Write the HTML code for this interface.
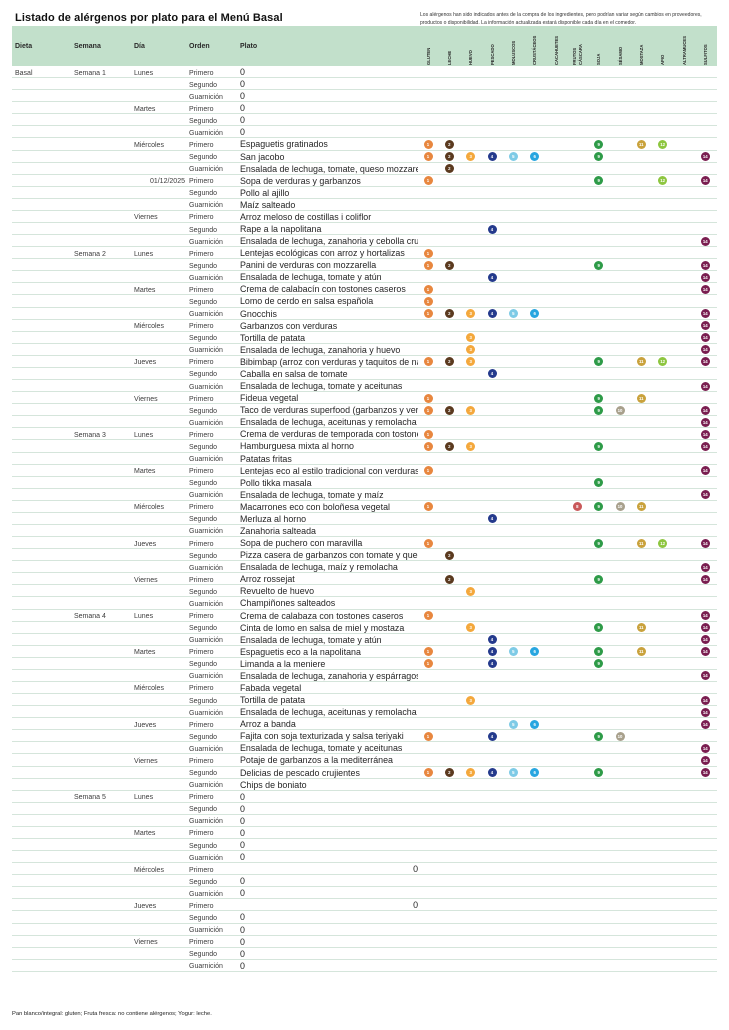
<!DOCTYPE html>
<html><head><meta charset="utf-8">
<style>
html,body{margin:0;padding:0;background:#fff;}
body{width:729px;height:1030px;position:relative;overflow:hidden;font-family:"Liberation Sans",Arial,sans-serif;color:#222;}
.title{position:absolute;left:15px;top:12px;font-weight:bold;font-size:11px;letter-spacing:0.1px;color:#111;white-space:nowrap;}
.note{position:absolute;left:420px;top:11px;font-size:5.05px;line-height:8px;color:#333;white-space:nowrap;}
.hdr{position:absolute;left:12px;top:26px;width:705px;height:40px;background:#c2e0cb;}
.hl{position:absolute;top:42.5px;font-weight:bold;font-size:7px;color:#2a2a2a;}
.v{position:absolute;top:65px;transform-origin:0 0;transform:rotate(-90deg);font-weight:bold;font-size:4.2px;line-height:5px;white-space:nowrap;color:#2a2a2a;}
.tbl{position:absolute;left:12px;top:66px;width:705px;}
.r{position:relative;height:12.08px;box-sizing:border-box;border-bottom:1px solid #d5e5db;}
.r span{position:absolute;top:1.5px;line-height:12px;font-size:7px;color:#3c3c3c;white-space:nowrap;}
.d{left:3px;}
.s{left:62px;}
.y{left:122px;}
.dt{left:136px;width:37px;text-align:right;}
.o{left:177px;}
.r .p{top:0;left:228px;width:178px;overflow:hidden;font-size:8.9px;color:#262626;}
.r .pr{top:0;left:228px;width:178px;text-align:right;font-size:8.9px;color:#262626;}
.c{position:absolute;top:1.5px;width:9px;height:9px;border-radius:50%;color:#fff;font-size:4.3px;font-weight:bold;line-height:9px;text-align:center;font-style:normal;}
.c1{left:411.5px;background:#e8873f;}
.c2{left:432.8px;background:#5b3a1f;}
.c3{left:454.2px;background:#f4a83c;}
.c4{left:475.5px;background:#243a8c;}
.c5{left:496.8px;background:#7ecbe6;}
.c6{left:518.2px;background:#27a6e0;}
.c8{left:560.8px;background:#c9595a;}
.c9{left:582.2px;background:#2e9b48;}
.c10{left:603.5px;background:#a8a08c;}
.c11{left:624.8px;background:#c9a23c;}
.c12{left:646.2px;background:#8dc63f;}
.c14{left:688.8px;background:#7a1e50;}
.foot{position:absolute;left:12px;top:1010.5px;font-size:5.8px;color:#222;white-space:nowrap;}
</style></head>
<body>
<div class="title">Listado de alérgenos por plato para el Menú Basal</div>
<div class="note">Los alérgenos han sido indicados antes de la compra de los ingredientes, pero podrían variar según cambios en proveedores,<br>productos o disponibilidad. La información actualizada estará disponible cada día en el comedor.</div>
<div class="hdr"></div>
<div class="hl" style="left:15px">Dieta</div>
<div class="hl" style="left:74px">Semana</div>
<div class="hl" style="left:134px">Día</div>
<div class="hl" style="left:189px">Orden</div>
<div class="hl" style="left:240px">Plato</div>
<div class="v" style="left:425.5px">GLUTEN</div>
<div class="v" style="left:446.8px">LECHE</div>
<div class="v" style="left:468.2px">HUEVO</div>
<div class="v" style="left:489.5px">PESCADO</div>
<div class="v" style="left:510.8px">MOLUSCOS</div>
<div class="v" style="left:532.2px">CRUSTÁCEOS</div>
<div class="v" style="left:553.5px">CACAHUETES</div>
<div class="v" style="left:572px;line-height:5.5px">FRUTOS<br>CÁSCARA</div>
<div class="v" style="left:596.2px">SOJA</div>
<div class="v" style="left:617.5px">SÉSAMO</div>
<div class="v" style="left:638.8px">MOSTAZA</div>
<div class="v" style="left:660.2px">APIO</div>
<div class="v" style="left:681.5px">ALTRAMUCES</div>
<div class="v" style="left:702.8px">SULFITOS</div>

<div class="tbl">
<div class="r"><span class="d">Basal</span><span class="s">Semana 1</span><span class="y">Lunes</span><span class="o">Primero</span><span class="p">0</span></div>
<div class="r"><span class="o">Segundo</span><span class="p">0</span></div>
<div class="r"><span class="o">Guarnición</span><span class="p">0</span></div>
<div class="r"><span class="y">Martes</span><span class="o">Primero</span><span class="p">0</span></div>
<div class="r"><span class="o">Segundo</span><span class="p">0</span></div>
<div class="r"><span class="o">Guarnición</span><span class="p">0</span></div>
<div class="r"><span class="y">Miércoles</span><span class="o">Primero</span><span class="p">Espaguetis gratinados</span><i class="c c1">1</i><i class="c c2">2</i><i class="c c9">9</i><i class="c c11">11</i><i class="c c12">12</i></div>
<div class="r"><span class="o">Segundo</span><span class="p">San jacobo</span><i class="c c1">1</i><i class="c c2">2</i><i class="c c3">3</i><i class="c c4">4</i><i class="c c5">5</i><i class="c c6">6</i><i class="c c9">9</i><i class="c c14">14</i></div>
<div class="r"><span class="o">Guarnición</span><span class="p">Ensalada de lechuga, tomate, queso mozzarella</span><i class="c c2">2</i></div>
<div class="r"><span class="dt">01/12/2025</span><span class="o">Primero</span><span class="p">Sopa de verduras y garbanzos</span><i class="c c1">1</i><i class="c c9">9</i><i class="c c12">12</i><i class="c c14">14</i></div>
<div class="r"><span class="o">Segundo</span><span class="p">Pollo al ajillo</span></div>
<div class="r"><span class="o">Guarnición</span><span class="p">Maíz salteado</span></div>
<div class="r"><span class="y">Viernes</span><span class="o">Primero</span><span class="p">Arroz meloso de costillas i coliflor</span></div>
<div class="r"><span class="o">Segundo</span><span class="p">Rape a la napolitana</span><i class="c c4">4</i></div>
<div class="r"><span class="o">Guarnición</span><span class="p">Ensalada de lechuga, zanahoria y cebolla cruda</span><i class="c c14">14</i></div>

<div class="r"><span class="s">Semana 2</span><span class="y">Lunes</span><span class="o">Primero</span><span class="p">Lentejas ecológicas con arroz y hortalizas</span><i class="c c1">1</i></div>
<div class="r"><span class="o">Segundo</span><span class="p">Panini de verduras con mozzarella</span><i class="c c1">1</i><i class="c c2">2</i><i class="c c9">9</i><i class="c c14">14</i></div>
<div class="r"><span class="o">Guarnición</span><span class="p">Ensalada de lechuga, tomate y atún</span><i class="c c4">4</i><i class="c c14">14</i></div>
<div class="r"><span class="y">Martes</span><span class="o">Primero</span><span class="p">Crema de calabacín con tostones caseros</span><i class="c c1">1</i><i class="c c14">14</i></div>
<div class="r"><span class="o">Segundo</span><span class="p">Lomo de cerdo en salsa española</span><i class="c c1">1</i></div>
<div class="r"><span class="o">Guarnición</span><span class="p">Gnocchis</span><i class="c c1">1</i><i class="c c2">2</i><i class="c c3">3</i><i class="c c4">4</i><i class="c c5">5</i><i class="c c6">6</i><i class="c c14">14</i></div>
<div class="r"><span class="y">Miércoles</span><span class="o">Primero</span><span class="p">Garbanzos con verduras</span><i class="c c14">14</i></div>
<div class="r"><span class="o">Segundo</span><span class="p">Tortilla de patata</span><i class="c c3">3</i><i class="c c14">14</i></div>
<div class="r"><span class="o">Guarnición</span><span class="p">Ensalada de lechuga, zanahoria y huevo</span><i class="c c3">3</i><i class="c c14">14</i></div>
<div class="r"><span class="y">Jueves</span><span class="o">Primero</span><span class="p">Bibimbap (arroz con verduras y taquitos de nabo)</span><i class="c c1">1</i><i class="c c2">2</i><i class="c c3">3</i><i class="c c9">9</i><i class="c c11">11</i><i class="c c12">12</i><i class="c c14">14</i></div>
<div class="r"><span class="o">Segundo</span><span class="p">Caballa en salsa de tomate</span><i class="c c4">4</i></div>
<div class="r"><span class="o">Guarnición</span><span class="p">Ensalada de lechuga, tomate y aceitunas</span><i class="c c14">14</i></div>
<div class="r"><span class="y">Viernes</span><span class="o">Primero</span><span class="p">Fideua vegetal</span><i class="c c1">1</i><i class="c c9">9</i><i class="c c11">11</i></div>
<div class="r"><span class="o">Segundo</span><span class="p">Taco de verduras superfood (garbanzos y verduras)</span><i class="c c1">1</i><i class="c c2">2</i><i class="c c3">3</i><i class="c c9">9</i><i class="c c10">10</i><i class="c c14">14</i></div>
<div class="r"><span class="o">Guarnición</span><span class="p">Ensalada de lechuga, aceitunas y remolacha</span><i class="c c14">14</i></div>

<div class="r"><span class="s">Semana 3</span><span class="y">Lunes</span><span class="o">Primero</span><span class="p">Crema de verduras de temporada con tostones</span><i class="c c1">1</i><i class="c c14">14</i></div>
<div class="r"><span class="o">Segundo</span><span class="p">Hamburguesa mixta al horno</span><i class="c c1">1</i><i class="c c2">2</i><i class="c c3">3</i><i class="c c9">9</i><i class="c c14">14</i></div>
<div class="r"><span class="o">Guarnición</span><span class="p">Patatas fritas</span></div>
<div class="r"><span class="y">Martes</span><span class="o">Primero</span><span class="p">Lentejas eco al estilo tradicional con verduras</span><i class="c c1">1</i><i class="c c14">14</i></div>
<div class="r"><span class="o">Segundo</span><span class="p">Pollo tikka masala</span><i class="c c9">9</i></div>
<div class="r"><span class="o">Guarnición</span><span class="p">Ensalada de lechuga, tomate y maíz</span><i class="c c14">14</i></div>
<div class="r"><span class="y">Miércoles</span><span class="o">Primero</span><span class="p">Macarrones eco con boloñesa vegetal</span><i class="c c1">1</i><i class="c c8">8</i><i class="c c9">9</i><i class="c c10">10</i><i class="c c11">11</i></div>
<div class="r"><span class="o">Segundo</span><span class="p">Merluza al horno</span><i class="c c4">4</i></div>
<div class="r"><span class="o">Guarnición</span><span class="p">Zanahoria salteada</span></div>
<div class="r"><span class="y">Jueves</span><span class="o">Primero</span><span class="p">Sopa de puchero con maravilla</span><i class="c c1">1</i><i class="c c9">9</i><i class="c c11">11</i><i class="c c12">12</i><i class="c c14">14</i></div>
<div class="r"><span class="o">Segundo</span><span class="p">Pizza casera de garbanzos con tomate y queso</span><i class="c c2">2</i></div>
<div class="r"><span class="o">Guarnición</span><span class="p">Ensalada de lechuga, maíz y remolacha</span><i class="c c14">14</i></div>
<div class="r"><span class="y">Viernes</span><span class="o">Primero</span><span class="p">Arroz rossejat</span><i class="c c2">2</i><i class="c c9">9</i><i class="c c14">14</i></div>
<div class="r"><span class="o">Segundo</span><span class="p">Revuelto de huevo</span><i class="c c3">3</i></div>
<div class="r"><span class="o">Guarnición</span><span class="p">Champiñones salteados</span></div>

<div class="r"><span class="s">Semana 4</span><span class="y">Lunes</span><span class="o">Primero</span><span class="p">Crema de calabaza con tostones caseros</span><i class="c c1">1</i><i class="c c14">14</i></div>
<div class="r"><span class="o">Segundo</span><span class="p">Cinta de lomo en salsa de miel y mostaza</span><i class="c c3">3</i><i class="c c9">9</i><i class="c c11">11</i><i class="c c14">14</i></div>
<div class="r"><span class="o">Guarnición</span><span class="p">Ensalada de lechuga, tomate y atún</span><i class="c c4">4</i><i class="c c14">14</i></div>
<div class="r"><span class="y">Martes</span><span class="o">Primero</span><span class="p">Espaguetis eco a la napolitana</span><i class="c c1">1</i><i class="c c4">4</i><i class="c c5">5</i><i class="c c6">6</i><i class="c c9">9</i><i class="c c11">11</i><i class="c c14">14</i></div>
<div class="r"><span class="o">Segundo</span><span class="p">Limanda a la meniere</span><i class="c c1">1</i><i class="c c4">4</i><i class="c c9">9</i></div>
<div class="r"><span class="o">Guarnición</span><span class="p">Ensalada de lechuga, zanahoria y espárragos</span><i class="c c14">14</i></div>
<div class="r"><span class="y">Miércoles</span><span class="o">Primero</span><span class="p">Fabada vegetal</span></div>
<div class="r"><span class="o">Segundo</span><span class="p">Tortilla de patata</span><i class="c c3">3</i><i class="c c14">14</i></div>
<div class="r"><span class="o">Guarnición</span><span class="p">Ensalada de lechuga, aceitunas y remolacha</span><i class="c c14">14</i></div>
<div class="r"><span class="y">Jueves</span><span class="o">Primero</span><span class="p">Arroz a banda</span><i class="c c5">5</i><i class="c c6">6</i><i class="c c14">14</i></div>
<div class="r"><span class="o">Segundo</span><span class="p">Fajita con soja texturizada y salsa teriyaki</span><i class="c c1">1</i><i class="c c4">4</i><i class="c c9">9</i><i class="c c10">10</i></div>
<div class="r"><span class="o">Guarnición</span><span class="p">Ensalada de lechuga, tomate y aceitunas</span><i class="c c14">14</i></div>
<div class="r"><span class="y">Viernes</span><span class="o">Primero</span><span class="p">Potaje de garbanzos a la mediterránea</span><i class="c c14">14</i></div>
<div class="r"><span class="o">Segundo</span><span class="p">Delicias de pescado crujientes</span><i class="c c1">1</i><i class="c c2">2</i><i class="c c3">3</i><i class="c c4">4</i><i class="c c5">5</i><i class="c c6">6</i><i class="c c9">9</i><i class="c c14">14</i></div>
<div class="r"><span class="o">Guarnición</span><span class="p">Chips de boniato</span></div>

<div class="r"><span class="s">Semana 5</span><span class="y">Lunes</span><span class="o">Primero</span><span class="p">0</span></div>
<div class="r"><span class="o">Segundo</span><span class="p">0</span></div>
<div class="r"><span class="o">Guarnición</span><span class="p">0</span></div>
<div class="r"><span class="y">Martes</span><span class="o">Primero</span><span class="p">0</span></div>
<div class="r"><span class="o">Segundo</span><span class="p">0</span></div>
<div class="r"><span class="o">Guarnición</span><span class="p">0</span></div>
<div class="r"><span class="y">Miércoles</span><span class="o">Primero</span><span class="pr">0</span></div>
<div class="r"><span class="o">Segundo</span><span class="p">0</span></div>
<div class="r"><span class="o">Guarnición</span><span class="p">0</span></div>
<div class="r"><span class="y">Jueves</span><span class="o">Primero</span><span class="pr">0</span></div>
<div class="r"><span class="o">Segundo</span><span class="p">0</span></div>
<div class="r"><span class="o">Guarnición</span><span class="p">0</span></div>
<div class="r"><span class="y">Viernes</span><span class="o">Primero</span><span class="p">0</span></div>
<div class="r"><span class="o">Segundo</span><span class="p">0</span></div>
<div class="r"><span class="o">Guarnición</span><span class="p">0</span></div>
</div>

<div class="foot">Pan blanco/integral: gluten; Fruta fresca: no contiene alérgenos; Yogur: leche.</div>
</body></html>
